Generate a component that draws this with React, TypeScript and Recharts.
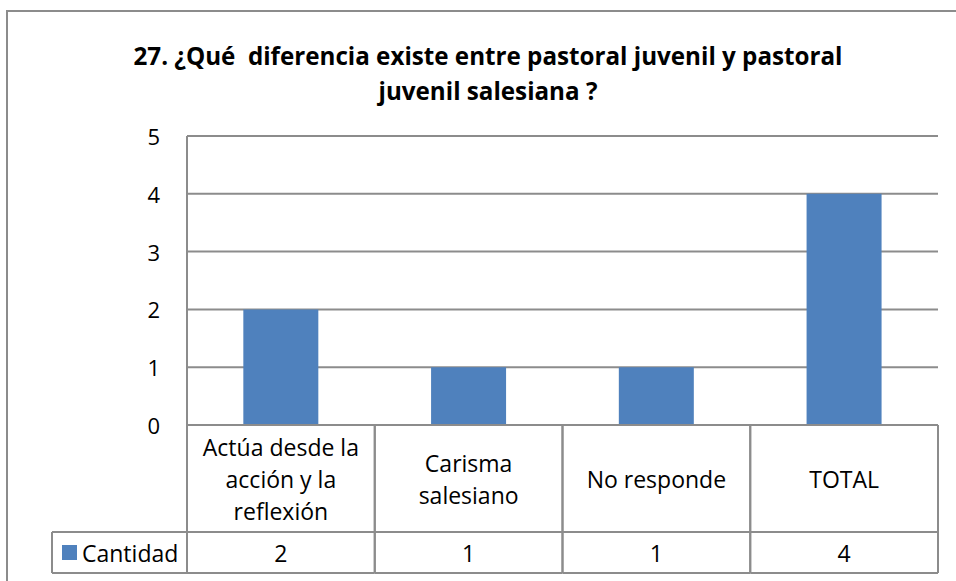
import React from 'react';
import { BarChart, Bar, XAxis, YAxis, CartesianGrid } from 'recharts';

const titleLines = ['27. ¿Qué  diferencia existe entre pastoral juvenil y pastoral', 'juvenil salesiana ?'];
const categories = ['Actúa desde la acción y la reflexión', 'Carisma salesiano', 'No responde', 'TOTAL'];
const cantidad = [2, 1, 1, 4];
const seriesName = 'Cantidad';
const yTicks = [0, 1, 2, 3, 4, 5];

const data = categories.map((name, i) => ({ name, [seriesName]: cantidad[i] }));

const W = 956;
const H = 581;
const PLOT_L = 187;
const PLOT_R = 938;
const PLOT_T = 136;
const PLOT_B = 425;
const ROW1_B = 532;
const ROW2_B = 573;
const LEGEND_L = 52;
const Y_AXIS_W = 60;
const BAR_COLOR = '#4f81bd';
const LINE = '#8c8c8c';
const FONT = '"Open Sans", "DejaVu Sans", sans-serif';
const FS = 23;
const LINE_H = 32;

// greedy wrap by characters, like excel does in the table cells
const wrap = (text: string, max: number) => {
  const words = text.split(' ');
  const lines: string[] = [];
  let cur = '';
  words.forEach((w) => {
    const next = cur ? cur + ' ' + w : w;
    if (next.length > max && cur) {
      lines.push(cur);
      cur = w;
    } else {
      cur = next;
    }
  });
  if (cur) lines.push(cur);
  return lines;
};

const YTick = (props: any) => {
  const { y, payload } = props;
  return (
    <text x={160} y={y} textAnchor="end" dominantBaseline="central" fontSize={22} fontFamily={FONT} fill="#000">
      {payload.value}
    </text>
  );
};

const TableTick = (props: any) => {
  const { x, payload, index } = props;
  const hw = (PLOT_R - PLOT_L) / categories.length / 2;
  const lines = wrap(payload.value, 14);
  const midY = (PLOT_B + ROW1_B) / 2;
  const startY = midY - ((lines.length - 1) * LINE_H) / 2;
  return (
    <g>
      <line x1={x - hw} y1={PLOT_B} x2={x - hw} y2={ROW2_B} stroke={LINE} strokeWidth={2} />
      <line x1={x + hw} y1={PLOT_B} x2={x + hw} y2={ROW2_B} stroke={LINE} strokeWidth={2} />
      <line x1={x - hw} y1={ROW1_B} x2={x + hw} y2={ROW1_B} stroke={LINE} strokeWidth={2} />
      <line x1={x - hw} y1={ROW2_B} x2={x + hw} y2={ROW2_B} stroke={LINE} strokeWidth={2} />
      {lines.map((ln, i) => (
        <text key={i} x={x} y={startY + i * LINE_H} textAnchor="middle" dominantBaseline="central" fontSize={FS} fontFamily={FONT} fill="#000">
          {ln}
        </text>
      ))}
      <text x={x} y={(ROW1_B + ROW2_B) / 2} textAnchor="middle" dominantBaseline="central" fontSize={FS} fontFamily={FONT} fill="#000">
        {cantidad[index]}
      </text>
      {index === 0 && (
        <g>
          <line x1={LEGEND_L} y1={ROW1_B} x2={x - hw} y2={ROW1_B} stroke={LINE} strokeWidth={2} />
          <line x1={LEGEND_L} y1={ROW2_B} x2={x - hw} y2={ROW2_B} stroke={LINE} strokeWidth={2} />
          <line x1={LEGEND_L} y1={ROW1_B} x2={LEGEND_L} y2={ROW2_B} stroke={LINE} strokeWidth={2} />
          <rect x={62} y={545} width={15} height={15} fill={BAR_COLOR} />
          <text x={82} y={(ROW1_B + ROW2_B) / 2} dominantBaseline="central" fontSize={FS} fontFamily={FONT} fill="#000">
            {seriesName}
          </text>
        </g>
      )}
    </g>
  );
};

export default function App() {
  return (
    <div style={{ position: 'absolute', left: 0, top: 0, width: W, height: H, overflow: 'hidden', background: '#fff' }}>
      <div style={{ position: 'absolute', left: 6, top: 10, width: 1000, height: 1000, border: `2px solid ${LINE}` }} />
      <div
        style={{
          position: 'absolute',
          left: 0,
          top: 38,
          width: 976,
          textAlign: 'center',
          fontFamily: FONT,
          fontWeight: 700,
          fontSize: 24.2,
          lineHeight: '35px',
          whiteSpace: 'pre',
          color: '#000',
        }}
      >
        {titleLines.map((t) => (
          <div key={t}>{t}</div>
        ))}
      </div>
      <div style={{ position: 'absolute', left: 0, top: 0 }}>
        <BarChart
          width={W}
          height={H}
          data={data}
          margin={{ top: PLOT_T, right: W - PLOT_R, bottom: H - ROW2_B, left: PLOT_L - Y_AXIS_W }}
          barCategoryGap="30%"
        >
          <CartesianGrid vertical={false} stroke={LINE} strokeWidth={2} />
          <YAxis
            width={Y_AXIS_W}
            domain={[0, 5]}
            ticks={yTicks}
            interval={0}
            tickLine={false}
            axisLine={{ stroke: LINE, strokeWidth: 2 }}
            tick={<YTick />}
          />
          <XAxis
            dataKey="name"
            height={ROW2_B - PLOT_B}
            interval={0}
            tickLine={false}
            axisLine={{ stroke: LINE, strokeWidth: 2 }}
            tick={<TableTick />}
          />
          <Bar dataKey={seriesName} fill={BAR_COLOR} isAnimationActive={false} />
        </BarChart>
      </div>
    </div>
  );
}
